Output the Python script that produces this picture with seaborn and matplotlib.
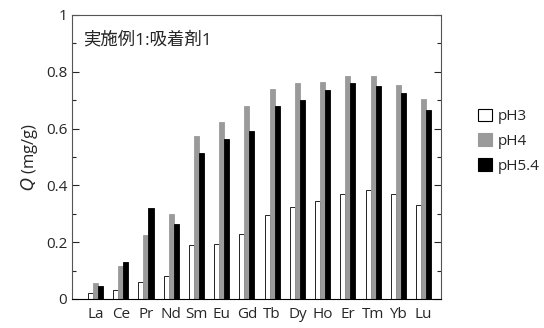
import matplotlib
matplotlib.use("Agg")
import matplotlib.pyplot as plt
import seaborn as sns
import pandas as pd
from matplotlib.patches import Patch
from matplotlib.ticker import MultipleLocator

elements = ["La", "Ce", "Pr", "Nd", "Sm", "Eu", "Gd", "Tb", "Dy", "Ho", "Er", "Tm", "Yb", "Lu"]
ph3 = [0.02, 0.03, 0.06, 0.08, 0.19, 0.195, 0.23, 0.295, 0.325, 0.345, 0.37, 0.385, 0.37, 0.33]
ph4 = [0.056, 0.115, 0.225, 0.30, 0.575, 0.625, 0.68, 0.74, 0.76, 0.765, 0.785, 0.785, 0.755, 0.705]
ph54 = [0.045, 0.13, 0.32, 0.265, 0.515, 0.565, 0.59, 0.68, 0.70, 0.735, 0.76, 0.75, 0.725, 0.665]
series = ["pH3", "pH4", "pH5.4"]
colors = ["white", "#9a9a9a", "black"]

rows = []
for s, vals in zip(series, [ph3, ph4, ph54]):
    for e, v in zip(elements, vals):
        rows.append({"element": e, "series": s, "Q": v})
df = pd.DataFrame(rows)

sns.set_style("white")
plt.rcParams['font.family'] = ['Open Sans', 'Noto Sans CJK JP', 'DejaVu Sans']

fig = plt.figure(figsize=(5.44, 3.28), dpi=100)
ax = fig.add_axes([72/544, 29/328, (441-72)/544, (299-15)/328])

sns.barplot(data=df, x="element", y="Q", hue="series", order=elements, hue_order=series,
            palette=colors, width=0.6, edgecolor="black", linewidth=0.6, ax=ax, legend=False,
            saturation=1)
for bar in ax.patches:
    fc = bar.get_facecolor()
    if fc[0] < 0.9:
        bar.set_edgecolor(fc)

ax.set_xlim(-0.93, 13.69)
ax.set_ylim(0, 1)
ax.set_yticks([0, 0.2, 0.4, 0.6, 0.8, 1.0])
ax.set_yticklabels(["0", "0.2", "0.4", "0.6", "0.8", "1"])
ax.yaxis.set_minor_locator(MultipleLocator(0.1))
ax.tick_params(axis='y', which='major', direction='in', length=5, width=0.8, right=True, left=True, labelsize=11)
ax.tick_params(axis='y', which='minor', direction='in', length=3, width=0.8, right=True, left=True)
ax.tick_params(axis='x', length=0, labelsize=11, pad=6)
for sp in ax.spines.values():
    sp.set_visible(True)
    sp.set_color("#555555")
    sp.set_linewidth(0.8)
ax.spines['bottom'].set_color("black")
ax.set_xlabel("")
ax.set_ylabel("$Q$ (mg/g)", fontsize=12)

ax.text(0.03, 0.94, "実施例1:吸着剤1", transform=ax.transAxes, fontsize=12.5, va="top", ha="left")

handles = [Patch(facecolor=c, edgecolor=("black" if c == "white" else c), linewidth=0.8) for c in colors]
ax.legend(handles, series, loc="center left", bbox_to_anchor=(1.1, 0.556), frameon=False,
          borderpad=0, borderaxespad=0,
          handlelength=0.9, handleheight=0.9, handletextpad=0.4, labelspacing=0.6, fontsize=11)

fig.savefig("out.png", dpi=100)
